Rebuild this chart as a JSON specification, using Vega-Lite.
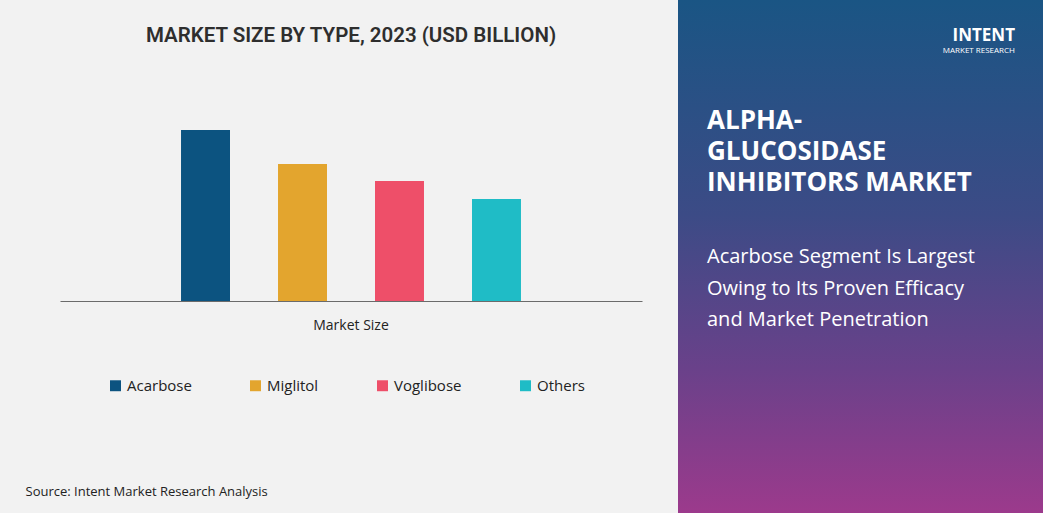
{
  "$schema": "https://vega.github.io/schema/vega-lite/v6.json",
  "background": "#f2f2f2",
  "padding": {"left": 25, "top": 0, "right": 0, "bottom": 0},
  "bounds": "flush",
  "spacing": 36,
  "title": {
    "text": "INTENT",
    "subtitle": "MARKET RESEARCH",
    "anchor": "end",
    "orient": "top",
    "offset": -56,
    "dx": -28,
    "color": "#ffffff",
    "subtitleColor": "#ffffff",
    "fontSize": 17,
    "fontWeight": "bold",
    "subtitleFontSize": 8,
    "subtitlePadding": 2
  },
  "hconcat": [
    {
      "width": 582,
      "height": 513,
      "title": {
        "text": "MARKET SIZE BY TYPE, 2023 (USD BILLION)",
        "frame": "group",
        "anchor": "middle",
        "orient": "top",
        "offset": -46,
        "font": "Roboto",
        "fontSize": 20.5,
        "fontWeight": 600,
        "color": "#2e2e2e"
      },
      "data": {
        "values": [
          {"segment": "Market Size", "type": "Acarbose", "value": 1.71},
          {"segment": "Market Size", "type": "Miglitol", "value": 1.37},
          {"segment": "Market Size", "type": "Voglibose", "value": 1.2},
          {"segment": "Market Size", "type": "Others", "value": 1.02}
        ]
      },
      "mark": {"type": "bar"},
      "encoding": {
        "x": {
          "field": "segment",
          "type": "nominal",
          "scale": {"paddingInner": 0, "paddingOuter": 0.045},
          "axis": {
            "title": null,
            "orient": "bottom",
            "offset": -212,
            "ticks": false,
            "tickSize": 0,
            "labelPadding": 17,
            "labelAngle": 0,
            "labelFontSize": 14,
            "labelColor": "#222222",
            "domainColor": "#6b6b6b",
            "domainWidth": 1,
            "grid": false
          }
        },
        "xOffset": {
          "field": "type",
          "type": "nominal",
          "sort": ["Acarbose", "Miglitol", "Voglibose", "Others"],
          "scale": {"paddingInner": 0.495, "paddingOuter": 1}
        },
        "y": {
          "field": "value",
          "type": "quantitative",
          "scale": {"domain": [-2.12, 3.01], "nice": false, "zero": false},
          "axis": {
            "title": "Source: Intent Market Research Analysis",
            "titleAngle": 0,
            "titleX": -35,
            "titleY": 491,
            "titleAlign": "left",
            "titleBaseline": "middle",
            "titleFontSize": 13,
            "titleFontWeight": "normal",
            "titleColor": "#222222",
            "labels": false,
            "ticks": false,
            "domain": false,
            "grid": false
          }
        },
        "color": {
          "field": "type",
          "type": "nominal",
          "sort": ["Acarbose", "Miglitol", "Voglibose", "Others"],
          "scale": {
            "domain": ["Acarbose", "Miglitol", "Voglibose", "Others"],
            "range": ["#0c5380", "#e3a52e", "#ee4f69", "#1fbcc6"]
          },
          "legend": {
            "orient": "none",
            "legendX": 48,
            "legendY": 378,
            "direction": "horizontal",
            "columns": 4,
            "title": null,
            "symbolType": "square",
            "symbolSize": 120,
            "symbolStrokeWidth": 0,
            "labelFontSize": 15,
            "labelColor": "#222222",
            "labelOffset": 4,
            "columnPadding": 56
          }
        }
      }
    },
    {
      "width": 365,
      "height": 513,
      "title": {
        "text": ["ALPHA-", "GLUCOSIDASE", "INHIBITORS MARKET"],
        "subtitle": ["Acarbose Segment Is Largest", "Owing to Its Proven Efficacy", "and Market Penetration"],
        "frame": "group",
        "anchor": "start",
        "orient": "top",
        "offset": -330,
        "dx": 29,
        "fontSize": 26,
        "fontWeight": "bold",
        "lineHeight": 31,
        "color": "#ffffff",
        "subtitleColor": "#ffffff",
        "subtitleFontSize": 20,
        "subtitleFontWeight": 500,
        "subtitleLineHeight": 31.5,
        "subtitlePadding": 51
      },
      "data": {"values": [{"panel": "headline"}]},
      "mark": {
        "type": "rect",
        "color": {
          "gradient": "linear",
          "x1": 0, "y1": 0, "x2": 0, "y2": 1,
          "stops": [
            {"offset": 0, "color": "#1a5584"},
            {"offset": 0.42, "color": "#3c4b86"},
            {"offset": 0.72, "color": "#6a418a"},
            {"offset": 1, "color": "#9c3a8c"}
          ]
        }
      },
      "encoding": {}
    }
  ],
  "config": {
    "font": "Open Sans",
    "view": {"stroke": null}
  }
}
